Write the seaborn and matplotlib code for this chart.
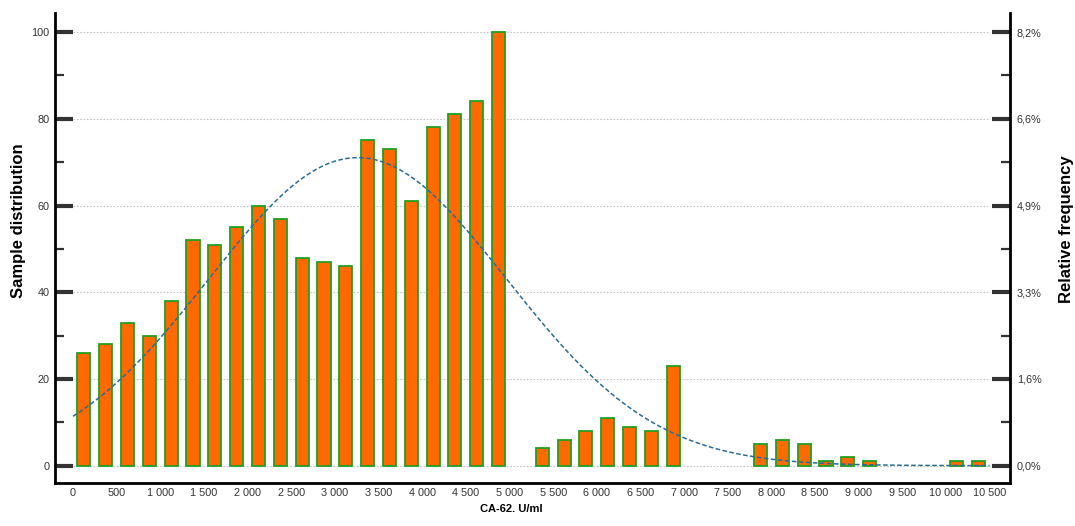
import numpy as np
import pandas as pd
import matplotlib
matplotlib.use("Agg")
import matplotlib.pyplot as plt
import seaborn as sns
from matplotlib.ticker import FuncFormatter, MultipleLocator

# CA-62 concentration bins (U/ml), 250 wide, and sample counts per bin
bin_width = 250
bin_left = np.arange(0, 10500, bin_width)
counts = [26, 28, 33, 30, 38, 52, 51, 55, 60, 57,
          48, 47, 46, 75, 73, 61, 78, 81, 84, 100,
          0, 4, 6, 8, 11, 9, 8, 23, 0, 0,
          0, 5, 6, 5, 1, 2, 1, 0, 0, 0,
          1, 1]
count_ticks = [0, 20, 40, 60, 80, 100]

sns.set_theme(style="white")
plt.rcParams["font.family"] = ["Liberation Sans", "DejaVu Sans"]

df = pd.DataFrame({"center": bin_left + bin_width / 2, "count": counts})
total = df["count"].sum()

# normal curve fitted to the binned sample, scaled to counts per bin
mean = (df["center"] * df["count"]).sum() / total
sd = np.sqrt((df["count"] * (df["center"] - mean) ** 2).sum() / total)
xs = np.linspace(0, 10500, 600)
fit = total * bin_width * np.exp(-0.5 * ((xs - mean) / sd) ** 2) / (sd * np.sqrt(2 * np.pi))

W, H = 1075, 526
fig = plt.figure(figsize=(W / 100, H / 100), dpi=100)
ax = fig.add_axes([55 / W, 1 - 483 / H, (1010 - 55) / W, (483 - 13) / H])

ax.hlines(count_ticks, 0, 10500, colors="#c4c4c4", linestyles=(0, (1.5, 1.5)), linewidth=0.8, zorder=0)

sns.barplot(data=df[df["count"] > 0], x="center", y="count", native_scale=True,
            width=0.6, color="#ff6a00", saturation=1, edgecolor="#22a022",
            linewidth=1.3, ax=ax, zorder=2)
sns.lineplot(x=xs, y=fit, ax=ax, color="#2a6b98", linestyle=(0, (3, 1.6)),
             linewidth=1.1, zorder=3)

ax.set_xlim(-206, 10733)
ax.set_ylim(-4.0, 104.4)

ax.set_xticks(list(range(0, 10501, 500)))
ax.xaxis.set_major_formatter(FuncFormatter(lambda v, p: f"{int(round(v)):,}".replace(",", " ")))
ax.set_yticks(count_ticks)
ax.minorticks_on()
ax.yaxis.set_minor_locator(MultipleLocator(10))
ax.xaxis.set_minor_locator(MultipleLocator(250))

tick_col = "#333333"
ax.tick_params(axis="x", which="both", direction="in", length=9.5, width=2.2,
               color=tick_col, labelsize=7.8, labelcolor="#333333", pad=3.5)
ax.tick_params(axis="y", which="major", direction="in", length=13, width=3,
               color=tick_col, labelsize=7.8, labelcolor="#333333", pad=4)
ax.tick_params(axis="y", which="minor", direction="in", length=6.5, width=1.6,
               color=tick_col, left=True)

for side in ["top", "right"]:
    ax.spines[side].set_visible(False)
for side in ["left", "bottom"]:
    ax.spines[side].set_color("black")
    ax.spines[side].set_linewidth(2)

ax.set_xlabel("")
ax.set_ylabel("")

# secondary axis: share of all samples
ax2 = ax.twinx()
ax2.set_ylim(ax.get_ylim())
ax2.set_yticks(count_ticks)
ax2.yaxis.set_minor_locator(MultipleLocator(10))
ax2.yaxis.set_major_formatter(FuncFormatter(lambda v, p: f"{v / total * 100:.1f}%".replace(".", ",")))
ax2.tick_params(axis="y", which="major", direction="in", length=13, width=3,
                color=tick_col, labelsize=7.8, labelcolor="#333333", pad=5)
ax2.tick_params(axis="y", which="minor", direction="in", length=6.5, width=1.6,
                color=tick_col, right=True)
for side in ["top", "left", "bottom"]:
    ax2.spines[side].set_visible(False)
ax2.spines["right"].set_color("black")
ax2.spines["right"].set_linewidth(2)

fig.text(19 / W, 1 - 221 / H, "Sample distribution", rotation=90, ha="center", va="center",
         fontsize=12, fontweight="bold", color="black")
fig.text(1066 / W, 1 - 229 / H, "Relative frequency", rotation=90, ha="center", va="center",
         fontsize=12, fontweight="bold", color="black")
fig.text(511 / W, 1 - 509 / H, "CA-62. U/ml", ha="center", va="center",
         fontsize=8, fontweight="bold", color="black")

fig.savefig("out.png", dpi=100, facecolor="white")
